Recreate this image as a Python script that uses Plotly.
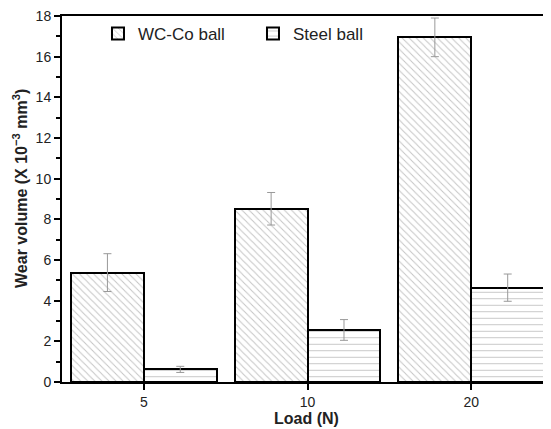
import plotly.graph_objects as go

loads = ["5", "10", "20"]
wcco = [5.38, 8.52, 16.95]
wcco_err = [0.93, 0.80, 0.95]
steel = [0.62, 2.56, 4.64]
steel_err = [0.15, 0.51, 0.67]
yticks = list(range(0, 19, 2))

xpos = list(range(len(loads)))
bw = 0.445

fig = go.Figure()
fig.add_trace(go.Bar(
    x=xpos, y=wcco, name="WC-Co ball", width=bw, offset=-bw,
    marker=dict(color="white", line=dict(color="black", width=2),
                pattern=dict(shape="\\", fgcolor="#8a8a8a", bgcolor="white", size=5, solidity=0.2)),
    error_y=dict(type="data", array=wcco_err, color="#999999", thickness=1, width=4),
))
fig.add_trace(go.Bar(
    x=xpos, y=steel, name="Steel ball", width=bw, offset=0,
    marker=dict(color="white", line=dict(color="black", width=2),
                pattern=dict(shape="-", fgcolor="#8a8a8a", bgcolor="white", size=6.5, solidity=0.15)),
    error_y=dict(type="data", array=steel_err, color="#999999", thickness=1, width=4),
))

# page body has an 8px margin: figure is sized/margined to land at the reference position
fig.update_layout(
    width=543, height=421,
    margin=dict(l=54, r=0, t=8, b=47),
    plot_bgcolor="white", paper_bgcolor="white",
    font=dict(family="Liberation Sans, Arial, sans-serif", size=14, color="#222"),
    showlegend=True,
    legend=dict(orientation="h", x=0.0736, y=1.0, xanchor="left", yanchor="top",
                font=dict(size=17, color="#222"), bgcolor="rgba(0,0,0,0)",
                itemwidth=30, entrywidth=110, traceorder="normal"),
    bargap=0,
    annotations=[dict(
        text="<b>Wear volume (X 10<sup>−3</sup> mm<sup>3</sup>)</b>",
        xref="paper", yref="paper", x=-0.086, y=0.53, xanchor="center", yanchor="middle",
        textangle=-90, showarrow=False, font=dict(size=16, color="#222"))],
)
fig.update_xaxes(
    range=[-0.5, 2.487], tickmode="array", tickvals=xpos, ticktext=loads,
    showline=True, linecolor="black", linewidth=2, mirror=True,
    ticks="outside", ticklen=6, tickwidth=2, tickcolor="black",
    showgrid=False, zeroline=False, ticklabeloverflow="allow",
    title=dict(text="<b>Load (N)</b>", font=dict(size=16, color="#222"), standoff=2),
)
fig.update_yaxes(
    range=[0, 18], tickmode="array", tickvals=yticks,
    showline=True, linecolor="black", linewidth=2,
    ticks="outside", ticklen=6, tickwidth=2, tickcolor="black",
    minor=dict(dtick=1, ticks="outside", ticklen=4, tickwidth=2, tickcolor="black"),
    showgrid=False, zeroline=False, ticklabeloverflow="allow",
)

fig.write_html("out.html")
